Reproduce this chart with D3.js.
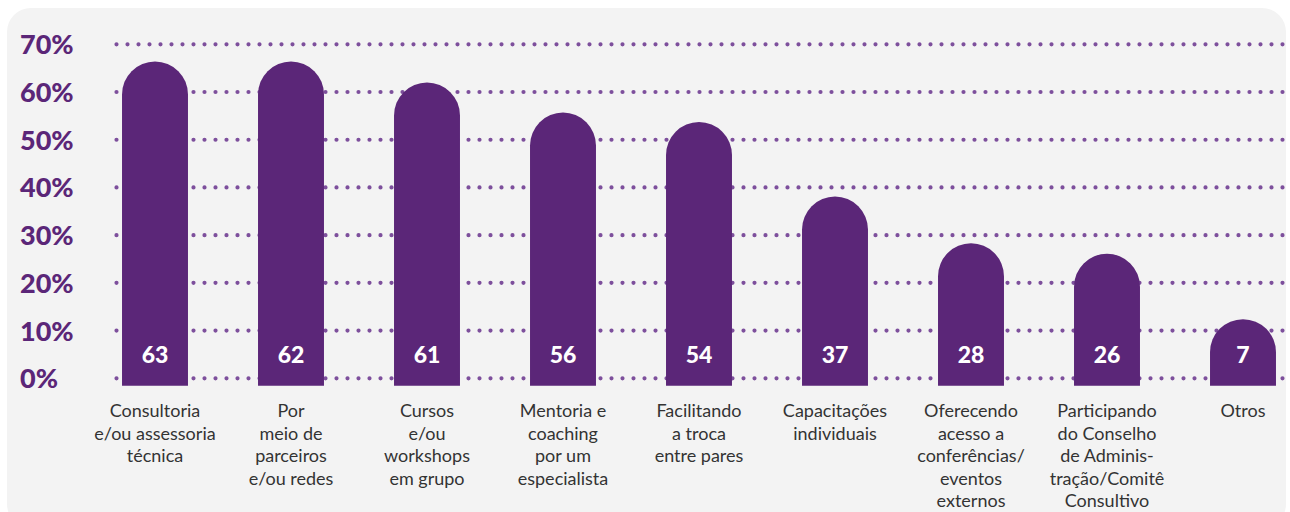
<!DOCTYPE html>
<html>
<head>
<meta charset="utf-8">
<script src="https://cdn.jsdelivr.net/npm/d3@7"></script>
<style>
  html, body { margin: 0; padding: 0; background: #ffffff; }
  svg { display: block; }
</style>
</head>
<body>
<svg id="chart" width="1290" height="512"></svg>
<script>
// ---- data ----
const categories = [
  ["Consultoria", "e/ou assessoria", "técnica"],
  ["Por", "meio de", "parceiros", "e/ou redes"],
  ["Cursos", "e/ou", "workshops", "em grupo"],
  ["Mentoria e", "coaching", "por um", "especialista"],
  ["Facilitando", "a troca", "entre pares"],
  ["Capacitações", "individuais"],
  ["Oferecendo", "acesso a", "conferências/", "eventos", "externos"],
  ["Participando", "do Conselho", "de Adminis-", "tração/Comitê", "Consultivo"],
  ["Otros"]
];
const valueLabels = [63, 62, 61, 56, 54, 37, 28, 26, 7];
// bar heights (percent) as drawn in the reference
const barHeights = [66.4, 66.4, 62.0, 55.7, 53.7, 38.1, 28.3, 26.1, 12.4];
const yTicks = [0, 10, 20, 30, 40, 50, 60, 70];

// ---- chart ----
const svg = d3.select("#chart");
const purple = "#5b2678";
const dotColor = "#7d4f9c";

svg.append("rect")
  .attr("x", 7).attr("y", 8).attr("width", 1279).attr("height", 520)
  .attr("rx", 24).attr("fill", "#f3f3f3");

const keys = categories.map((d, i) => i);
const x = d3.scaleBand().domain(keys).range([87, 1311])
  .paddingInner(0.515).paddingOuter(0.2575);
const y = d3.scaleLinear().domain([0, 70]).range([378.3, 44.3]);

// gridlines (dotted)
svg.append("g").selectAll("line").data(yTicks).join("line")
  .attr("x1", 116.5).attr("x2", 1284)
  .attr("y1", d => y(d)).attr("y2", d => y(d))
  .attr("stroke", dotColor).attr("stroke-width", 4.2)
  .attr("stroke-linecap", "round").attr("stroke-dasharray", "0 11");

// y axis
const yAxis = svg.append("g")
  .call(d3.axisLeft(y).tickValues(yTicks).tickFormat(d => d + "%").tickSize(0));
yAxis.select(".domain").remove();
yAxis.selectAll("text")
  .attr("x", 20).attr("dy", "0.35em")
  .attr("text-anchor", "start")
  .attr("fill", purple)
  .style("font-family", "Lato, 'Open Sans', sans-serif")
  .style("font-weight", 900)
  .style("font-size", "27px");

// bars with rounded tops
const bottomExtra = 7.5;
function barPath(i) {
  const x0 = x(i), w = x.bandwidth(), r = w / 2;
  const top = y(barHeights[i]);
  const bot = y(0) + bottomExtra;
  return `M${x0},${bot} L${x0},${top + r} A${r},${r} 0 0 1 ${x0 + w},${top + r} L${x0 + w},${bot} Z`;
}
svg.append("g").selectAll("path").data(keys).join("path")
  .attr("d", d => barPath(d))
  .attr("fill", purple);

// value labels
svg.append("g").selectAll("text").data(keys).join("text")
  .attr("x", d => x(d) + x.bandwidth() / 2)
  .attr("y", 363.3)
  .attr("text-anchor", "middle")
  .attr("fill", "#ffffff")
  .style("font-family", "Lato, 'Open Sans', sans-serif")
  .style("font-weight", 900)
  .style("font-size", "23px")
  .text(d => valueLabels[d]);

// category labels
const cat = svg.append("g").selectAll("text").data(keys).join("text")
  .attr("text-anchor", "middle")
  .attr("fill", "#333333")
  .style("font-family", "Lato, 'Open Sans', sans-serif")
  .style("font-size", "18px");
cat.each(function (d) {
  const t = d3.select(this);
  const cx = x(d) + x.bandwidth() / 2;
  categories[d].forEach((line, j) => {
    t.append("tspan").attr("x", cx).attr("y", 417 + j * 22.6).text(line);
  });
});
</script>
</body>
</html>
